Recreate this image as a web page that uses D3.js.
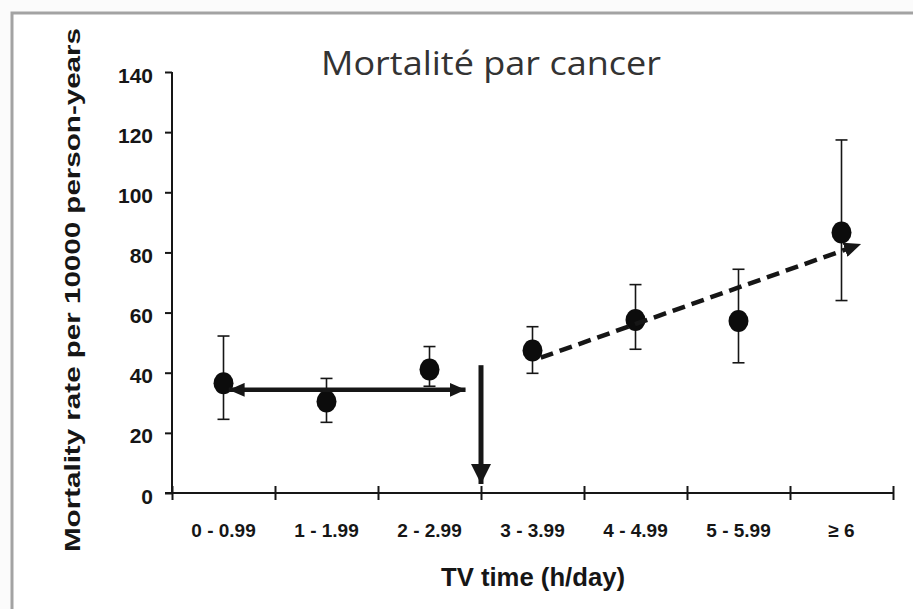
<!DOCTYPE html>
<html>
<head>
<meta charset="utf-8">
<script src="https://cdn.jsdelivr.net/npm/d3@7/dist/d3.min.js"></script>
<style>
  html, body { margin: 0; padding: 0; background: #fbfbfb; }
  svg { display: block; }
</style>
</head>
<body>
<svg id="chart" width="913" height="609"></svg>
<script>
// TV-time groups and cancer mortality rate (per 10 000 person-years) with 95% limits
const categories = ["0 - 0.99", "1 - 1.99", "2 - 2.99", "3 - 3.99", "4 - 4.99", "5 - 5.99", "≥ 6"];
const rates = [36.5, 30.4, 41.1, 47.4, 57.5, 57.2, 86.6];
const lowerCI = [24.5, 23.5, 35.5, 39.8, 47.8, 43.3, 64.0];
const upperCI = [52.2, 38.1, 48.7, 55.3, 69.3, 74.4, 117.4];
const yTicks = [0, 20, 40, 60, 80, 100, 120, 140];

// Trend annotations as [group index, rate] pairs
const plateauArrow = [[0.05, 34.3], [2.35, 34.3]];
const thresholdArrow = [[2.5, 42.5], [2.5, 3.0]];
const riseArrow = [[3.08, 45.0], [6.19, 82.8]];

const title = "Mortalité par cancer";
const xTitle = "TV time (h/day)";
const yTitle = "Mortality rate per 10000 person-years";

const svg = d3.select("#chart");
const ink = "#161616";
const boldFont = "'Liberation Sans', Arial, sans-serif";

// Panel frame
svg.append("rect")
  .attr("x", 12).attr("y", 13)
  .attr("width", 1000).attr("height", 700)
  .attr("fill", "#ffffff")
  .attr("stroke", "#a3a3a3").attr("stroke-width", 3);

const plot = { left: 172, right: 893, top: 72, bottom: 493 };

const y = d3.scaleLinear().domain([0, 140]).range([plot.bottom, plot.top]);
const xIdx = d3.scaleLinear().domain([-0.5, categories.length - 0.5]).range([plot.left, plot.right]);
const xBand = d3.scaleBand().domain(categories).range([plot.left, plot.right]);

// Arrow heads
const defs = svg.append("defs");
function head(id, w, h) {
  defs.append("marker")
    .attr("id", id)
    .attr("markerUnits", "userSpaceOnUse")
    .attr("viewBox", `0 0 ${w} ${h}`)
    .attr("refX", w).attr("refY", h / 2)
    .attr("markerWidth", w).attr("markerHeight", h)
    .attr("orient", "auto-start-reverse")
    .append("path")
    .attr("d", `M0,0 L${w},${h / 2} L0,${h} Z`)
    .attr("fill", ink);
}
head("headSmall", 16, 14);
head("headBig", 20, 20);
head("headDash", 17, 15);

// Y axis
const yAxis = svg.append("g")
  .attr("transform", `translate(${plot.left},0)`)
  .call(d3.axisLeft(y).tickValues(yTicks).tickSize(7).tickPadding(12));
yAxis.select(".domain").attr("stroke", ink).attr("stroke-width", 2)
  .attr("d", `M0,${y(0)}V${y(140)}`);
yAxis.selectAll(".tick line").attr("stroke", ink).attr("stroke-width", 2);
yAxis.selectAll(".tick text")
  .attr("fill", ink)
  .attr("font-family", boldFont)
  .attr("font-weight", "bold")
  .attr("font-size", 21)
  .attr("dy", "0.48em");

// X axis: tick marks on group boundaries
const xAxis = svg.append("g")
  .attr("transform", `translate(0,${plot.bottom})`)
  .call(d3.axisBottom(xIdx).tickValues(d3.range(-0.5, categories.length, 1)).tickFormat(""));
xAxis.select(".domain").attr("stroke", ink).attr("stroke-width", 2)
  .attr("d", `M${plot.left - 7},0H${plot.right}`);
xAxis.selectAll(".tick line").attr("stroke", ink).attr("stroke-width", 2)
  .attr("y1", -7).attr("y2", 7);

// X axis: group labels at band centres
const xLabels = svg.append("g")
  .attr("transform", `translate(0,${plot.bottom})`)
  .call(d3.axisBottom(xBand).tickSize(0).tickPadding(31));
xLabels.select(".domain").remove();
xLabels.selectAll(".tick text")
  .attr("fill", ink)
  .attr("font-family", boldFont)
  .attr("font-weight", "bold")
  .attr("font-size", 19);

// Axis titles
svg.append("text")
  .attr("x", 533)
  .attr("y", 586)
  .attr("text-anchor", "middle")
  .attr("fill", ink)
  .attr("font-family", boldFont)
  .attr("font-weight", "bold")
  .attr("font-size", 25)
  .attr("textLength", 184)
  .attr("lengthAdjust", "spacingAndGlyphs")
  .text(xTitle);

svg.append("text")
  .attr("transform", "translate(80,290) rotate(-90)")
  .attr("text-anchor", "middle")
  .attr("fill", ink)
  .attr("font-family", boldFont)
  .attr("font-weight", "bold")
  .attr("font-size", 22)
  .attr("textLength", 524)
  .attr("lengthAdjust", "spacingAndGlyphs")
  .text(yTitle);

// Chart title
svg.append("text")
  .attr("x", 491).attr("y", 75)
  .attr("text-anchor", "middle")
  .attr("fill", "#333333")
  .attr("font-family", "'Open Sans', 'Noto Sans', sans-serif")
  .attr("font-size", 32)
  .attr("textLength", 340)
  .attr("lengthAdjust", "spacingAndGlyphs")
  .text(title);

// Error bars
const eb = svg.append("g").attr("stroke", ink).attr("stroke-width", 1.6);
categories.forEach((c, i) => {
  const cx = xIdx(i);
  eb.append("line").attr("x1", cx).attr("x2", cx).attr("y1", y(lowerCI[i])).attr("y2", y(upperCI[i]));
  eb.append("line").attr("x1", cx - 6).attr("x2", cx + 6).attr("y1", y(upperCI[i])).attr("y2", y(upperCI[i]));
  eb.append("line").attr("x1", cx - 6).attr("x2", cx + 6).attr("y1", y(lowerCI[i])).attr("y2", y(lowerCI[i]));
});

// Points
svg.append("g").selectAll("ellipse")
  .data(rates)
  .join("ellipse")
  .attr("cx", (d, i) => xIdx(i))
  .attr("cy", d => y(d))
  .attr("rx", 10).attr("ry", 11)
  .attr("fill", "#0c0c0c");

// Trend arrows
const arrowLine = d3.line().x(d => xIdx(d[0])).y(d => y(d[1]));

svg.append("path")
  .attr("d", arrowLine(plateauArrow))
  .attr("fill", "none").attr("stroke", ink).attr("stroke-width", 4.5)
  .attr("marker-start", "url(#headSmall)")
  .attr("marker-end", "url(#headSmall)");

svg.append("path")
  .attr("d", arrowLine(thresholdArrow))
  .attr("fill", "none").attr("stroke", ink).attr("stroke-width", 5)
  .attr("marker-end", "url(#headBig)");

svg.append("path")
  .attr("d", arrowLine(riseArrow))
  .attr("fill", "none").attr("stroke", ink).attr("stroke-width", 4.5)
  .attr("stroke-dasharray", "13 7")
  .attr("marker-end", "url(#headDash)");
</script>
</body>
</html>
